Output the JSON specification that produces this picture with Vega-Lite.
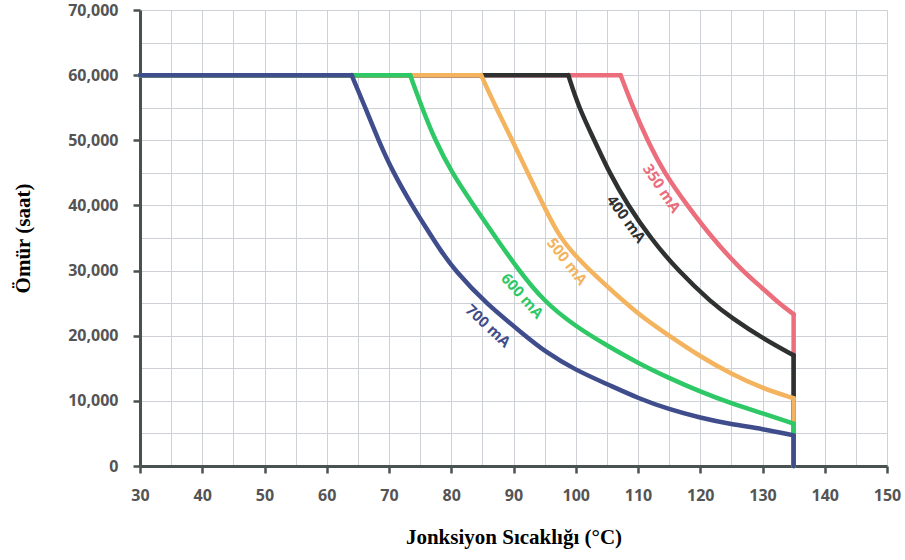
{
  "$schema": "https://vega.github.io/schema/vega-lite/v6.json",
  "width": 747,
  "height": 456,
  "autosize": {"type": "none"},
  "padding": {"left": 140, "top": 10, "right": 18, "bottom": 94},
  "background": "white",
  "config": {
    "view": {"stroke": null},
    "axis": {
      "grid": true,
      "gridColor": "#cdd1d5",
      "gridWidth": 1,
      "domainColor": "#4a5251",
      "domainWidth": 3,
      "tickColor": "#4a5251",
      "tickWidth": 2.5,
      "tickSize": 7,
      "labelFont": "Open Sans",
      "labelFontSize": 16,
      "labelFontWeight": "bold",
      "labelColor": "#545454",
      "titleFont": "Liberation Serif",
      "titleFontSize": 21,
      "titleFontWeight": "bold",
      "titleColor": "#000000"
    },
    "line": {"strokeWidth": 4.5, "strokeCap": "round", "strokeJoin": "round"}
  },
  "datasets": {
    "curves": [
      {"s": "700 mA", "i": 0, "x": 30, "y": 60000},
      {"s": "700 mA", "i": 1, "x": 64, "y": 60000},
      {"s": "700 mA", "i": 2, "x": 66.2, "y": 55000},
      {"s": "700 mA", "i": 3, "x": 68.3, "y": 50000},
      {"s": "700 mA", "i": 4, "x": 70.7, "y": 45000},
      {"s": "700 mA", "i": 5, "x": 73.7, "y": 40000},
      {"s": "700 mA", "i": 6, "x": 76, "y": 36500},
      {"s": "700 mA", "i": 7, "x": 78.2, "y": 33200},
      {"s": "700 mA", "i": 8, "x": 80.6, "y": 30000},
      {"s": "700 mA", "i": 9, "x": 85.5, "y": 25000},
      {"s": "700 mA", "i": 10, "x": 91.9, "y": 20000},
      {"s": "700 mA", "i": 11, "x": 95, "y": 17600},
      {"s": "700 mA", "i": 12, "x": 100, "y": 14700},
      {"s": "700 mA", "i": 13, "x": 105, "y": 12600},
      {"s": "700 mA", "i": 14, "x": 110, "y": 10400},
      {"s": "700 mA", "i": 15, "x": 115, "y": 8700},
      {"s": "700 mA", "i": 16, "x": 120, "y": 7400},
      {"s": "700 mA", "i": 17, "x": 125, "y": 6400},
      {"s": "700 mA", "i": 18, "x": 130, "y": 5700},
      {"s": "700 mA", "i": 19, "x": 135, "y": 4700},
      {"s": "700 mA", "i": 20, "x": 135, "y": 0},

      {"s": "600 mA", "i": 0, "x": 30, "y": 60000},
      {"s": "600 mA", "i": 1, "x": 73.4, "y": 60000},
      {"s": "600 mA", "i": 2, "x": 75.3, "y": 55000},
      {"s": "600 mA", "i": 3, "x": 77.4, "y": 50000},
      {"s": "600 mA", "i": 4, "x": 80.1, "y": 45000},
      {"s": "600 mA", "i": 5, "x": 83.6, "y": 40000},
      {"s": "600 mA", "i": 6, "x": 87.2, "y": 35000},
      {"s": "600 mA", "i": 7, "x": 90.5, "y": 30500},
      {"s": "600 mA", "i": 8, "x": 94.8, "y": 25300},
      {"s": "600 mA", "i": 9, "x": 100, "y": 21400},
      {"s": "600 mA", "i": 10, "x": 105, "y": 18500},
      {"s": "600 mA", "i": 11, "x": 110, "y": 15800},
      {"s": "600 mA", "i": 12, "x": 115, "y": 13500},
      {"s": "600 mA", "i": 13, "x": 120, "y": 11400},
      {"s": "600 mA", "i": 14, "x": 125, "y": 9600},
      {"s": "600 mA", "i": 15, "x": 130, "y": 8100},
      {"s": "600 mA", "i": 16, "x": 135, "y": 6500},
      {"s": "600 mA", "i": 17, "x": 135, "y": 0},

      {"s": "500 mA", "i": 0, "x": 30, "y": 60000},
      {"s": "500 mA", "i": 1, "x": 84.8, "y": 60000},
      {"s": "500 mA", "i": 2, "x": 87.2, "y": 55000},
      {"s": "500 mA", "i": 3, "x": 89.8, "y": 50000},
      {"s": "500 mA", "i": 4, "x": 92.3, "y": 45000},
      {"s": "500 mA", "i": 5, "x": 94.8, "y": 40000},
      {"s": "500 mA", "i": 6, "x": 97.5, "y": 35000},
      {"s": "500 mA", "i": 7, "x": 100, "y": 32200},
      {"s": "500 mA", "i": 8, "x": 103.9, "y": 28500},
      {"s": "500 mA", "i": 9, "x": 110, "y": 23300},
      {"s": "500 mA", "i": 10, "x": 115, "y": 20000},
      {"s": "500 mA", "i": 11, "x": 120, "y": 16800},
      {"s": "500 mA", "i": 12, "x": 125, "y": 14100},
      {"s": "500 mA", "i": 13, "x": 130, "y": 11900},
      {"s": "500 mA", "i": 14, "x": 135, "y": 10400},
      {"s": "500 mA", "i": 15, "x": 135, "y": 0},

      {"s": "400 mA", "i": 0, "x": 30, "y": 60000},
      {"s": "400 mA", "i": 1, "x": 98.8, "y": 60000},
      {"s": "400 mA", "i": 2, "x": 100.5, "y": 55000},
      {"s": "400 mA", "i": 3, "x": 103, "y": 50000},
      {"s": "400 mA", "i": 4, "x": 105.4, "y": 45000},
      {"s": "400 mA", "i": 5, "x": 108.4, "y": 40000},
      {"s": "400 mA", "i": 6, "x": 112, "y": 35000},
      {"s": "400 mA", "i": 7, "x": 116.4, "y": 30000},
      {"s": "400 mA", "i": 8, "x": 121.9, "y": 25000},
      {"s": "400 mA", "i": 9, "x": 125, "y": 22800},
      {"s": "400 mA", "i": 10, "x": 130, "y": 19600},
      {"s": "400 mA", "i": 11, "x": 135, "y": 17000},
      {"s": "400 mA", "i": 12, "x": 135, "y": 0},

      {"s": "350 mA", "i": 0, "x": 30, "y": 60000},
      {"s": "350 mA", "i": 1, "x": 107.2, "y": 60000},
      {"s": "350 mA", "i": 2, "x": 109.2, "y": 55000},
      {"s": "350 mA", "i": 3, "x": 111.5, "y": 50000},
      {"s": "350 mA", "i": 4, "x": 114.2, "y": 45000},
      {"s": "350 mA", "i": 5, "x": 117.9, "y": 40000},
      {"s": "350 mA", "i": 6, "x": 121.9, "y": 35000},
      {"s": "350 mA", "i": 7, "x": 126.7, "y": 30000},
      {"s": "350 mA", "i": 8, "x": 130, "y": 27300},
      {"s": "350 mA", "i": 9, "x": 132.6, "y": 25000},
      {"s": "350 mA", "i": 10, "x": 135, "y": 23300},
      {"s": "350 mA", "i": 11, "x": 135, "y": 0}
    ],
    "labels": [
      {"s": "350 mA", "x": 113.8, "y": 42600},
      {"s": "400 mA", "x": 108.1, "y": 37900},
      {"s": "500 mA", "x": 98.6, "y": 31400},
      {"s": "600 mA", "x": 91.4, "y": 26100},
      {"s": "700 mA", "x": 85.9, "y": 21500}
    ]
  },
  "encoding": {
    "x": {
      "field": "x",
      "type": "quantitative",
      "scale": {"domain": [30, 150], "nice": false, "zero": false},
      "axis": {
        "title": "Jonksiyon Sıcaklığı (°C)",
        "values": [30, 35, 40, 45, 50, 55, 60, 65, 70, 75, 80, 85, 90, 95, 100, 105, 110, 115, 120, 125, 130, 135, 140, 145, 150],
        "labelExpr": "datum.value % 10 === 0 ? datum.label : ''",
        "tickOpacity": {"condition": {"test": "datum.value % 10 === 0", "value": 1}, "value": 0},
        "labelPadding": 14,
        "titlePadding": 23,
        "labelFlush": false,
        "labelOverlap": false
      }
    },
    "y": {
      "field": "y",
      "type": "quantitative",
      "scale": {"domain": [0, 70000], "nice": false},
      "axis": {
        "title": "Ömür (saat)",
        "values": [0, 5000, 10000, 15000, 20000, 25000, 30000, 35000, 40000, 45000, 50000, 55000, 60000, 65000, 70000],
        "format": ",d",
        "labelExpr": "datum.value % 10000 === 0 ? datum.label : ''",
        "tickOpacity": {"condition": {"test": "datum.value % 10000 === 0", "value": 1}, "value": 0},
        "labelPadding": 15,
        "titlePadding": 34,
        "labelFlush": false,
        "labelOverlap": false
      }
    }
  },
  "layer": [
    {"data": {"name": "curves"}, "transform": [{"filter": "datum.s === '350 mA' && datum.i <= 1"}],
     "mark": {"type": "line", "color": "#ec6d7b"}, "encoding": {"order": {"field": "i", "type": "quantitative"}}},
    {"data": {"name": "curves"}, "transform": [{"filter": "datum.s === '350 mA' && datum.i >= 1 && datum.y > 0"}],
     "mark": {"type": "line", "color": "#ec6d7b", "interpolate": "basis"}, "encoding": {"order": {"field": "i", "type": "quantitative"}}},
    {"data": {"name": "curves"}, "transform": [{"filter": "datum.s === '350 mA' && datum.x === 135"}],
     "mark": {"type": "line", "color": "#ec6d7b"}, "encoding": {"order": {"field": "i", "type": "quantitative"}}},

    {"data": {"name": "curves"}, "transform": [{"filter": "datum.s === '400 mA' && datum.i <= 1"}],
     "mark": {"type": "line", "color": "#2f3131"}, "encoding": {"order": {"field": "i", "type": "quantitative"}}},
    {"data": {"name": "curves"}, "transform": [{"filter": "datum.s === '400 mA' && datum.i >= 1 && datum.y > 0"}],
     "mark": {"type": "line", "color": "#2f3131", "interpolate": "basis"}, "encoding": {"order": {"field": "i", "type": "quantitative"}}},
    {"data": {"name": "curves"}, "transform": [{"filter": "datum.s === '400 mA' && datum.x === 135"}],
     "mark": {"type": "line", "color": "#2f3131"}, "encoding": {"order": {"field": "i", "type": "quantitative"}}},

    {"data": {"name": "curves"}, "transform": [{"filter": "datum.s === '500 mA' && datum.i <= 1"}],
     "mark": {"type": "line", "color": "#f4b35e"}, "encoding": {"order": {"field": "i", "type": "quantitative"}}},
    {"data": {"name": "curves"}, "transform": [{"filter": "datum.s === '500 mA' && datum.i >= 1 && datum.y > 0"}],
     "mark": {"type": "line", "color": "#f4b35e", "interpolate": "basis"}, "encoding": {"order": {"field": "i", "type": "quantitative"}}},
    {"data": {"name": "curves"}, "transform": [{"filter": "datum.s === '500 mA' && datum.x === 135"}],
     "mark": {"type": "line", "color": "#f4b35e"}, "encoding": {"order": {"field": "i", "type": "quantitative"}}},

    {"data": {"name": "curves"}, "transform": [{"filter": "datum.s === '600 mA' && datum.i <= 1"}],
     "mark": {"type": "line", "color": "#2ec866"}, "encoding": {"order": {"field": "i", "type": "quantitative"}}},
    {"data": {"name": "curves"}, "transform": [{"filter": "datum.s === '600 mA' && datum.i >= 1 && datum.y > 0"}],
     "mark": {"type": "line", "color": "#2ec866", "interpolate": "basis"}, "encoding": {"order": {"field": "i", "type": "quantitative"}}},
    {"data": {"name": "curves"}, "transform": [{"filter": "datum.s === '600 mA' && datum.x === 135"}],
     "mark": {"type": "line", "color": "#2ec866"}, "encoding": {"order": {"field": "i", "type": "quantitative"}}},

    {"data": {"name": "curves"}, "transform": [{"filter": "datum.s === '700 mA' && datum.i <= 1"}],
     "mark": {"type": "line", "color": "#3f4d8c"}, "encoding": {"order": {"field": "i", "type": "quantitative"}}},
    {"data": {"name": "curves"}, "transform": [{"filter": "datum.s === '700 mA' && datum.i >= 1 && datum.y > 0"}],
     "mark": {"type": "line", "color": "#3f4d8c", "interpolate": "basis"}, "encoding": {"order": {"field": "i", "type": "quantitative"}}},
    {"data": {"name": "curves"}, "transform": [{"filter": "datum.s === '700 mA' && datum.x === 135"}],
     "mark": {"type": "line", "color": "#3f4d8c"}, "encoding": {"order": {"field": "i", "type": "quantitative"}}},

    {"data": {"name": "labels"}, "transform": [{"filter": "datum.s === '350 mA'"}],
     "mark": {"type": "text", "color": "#ec6d7b", "angle": 56, "font": "Open Sans", "fontSize": 15, "fontWeight": "bold", "align": "center", "baseline": "middle"},
     "encoding": {"text": {"field": "s"}}},
    {"data": {"name": "labels"}, "transform": [{"filter": "datum.s === '400 mA'"}],
     "mark": {"type": "text", "color": "#2f3131", "angle": 54, "font": "Open Sans", "fontSize": 15, "fontWeight": "bold", "align": "center", "baseline": "middle"},
     "encoding": {"text": {"field": "s"}}},
    {"data": {"name": "labels"}, "transform": [{"filter": "datum.s === '500 mA'"}],
     "mark": {"type": "text", "color": "#f4b35e", "angle": 52, "font": "Open Sans", "fontSize": 15, "fontWeight": "bold", "align": "center", "baseline": "middle"},
     "encoding": {"text": {"field": "s"}}},
    {"data": {"name": "labels"}, "transform": [{"filter": "datum.s === '600 mA'"}],
     "mark": {"type": "text", "color": "#2ec866", "angle": 48, "font": "Open Sans", "fontSize": 15, "fontWeight": "bold", "align": "center", "baseline": "middle"},
     "encoding": {"text": {"field": "s"}}},
    {"data": {"name": "labels"}, "transform": [{"filter": "datum.s === '700 mA'"}],
     "mark": {"type": "text", "color": "#3f4d8c", "angle": 43, "font": "Open Sans", "fontSize": 15, "fontWeight": "bold", "align": "center", "baseline": "middle"},
     "encoding": {"text": {"field": "s"}}}
  ]
}
